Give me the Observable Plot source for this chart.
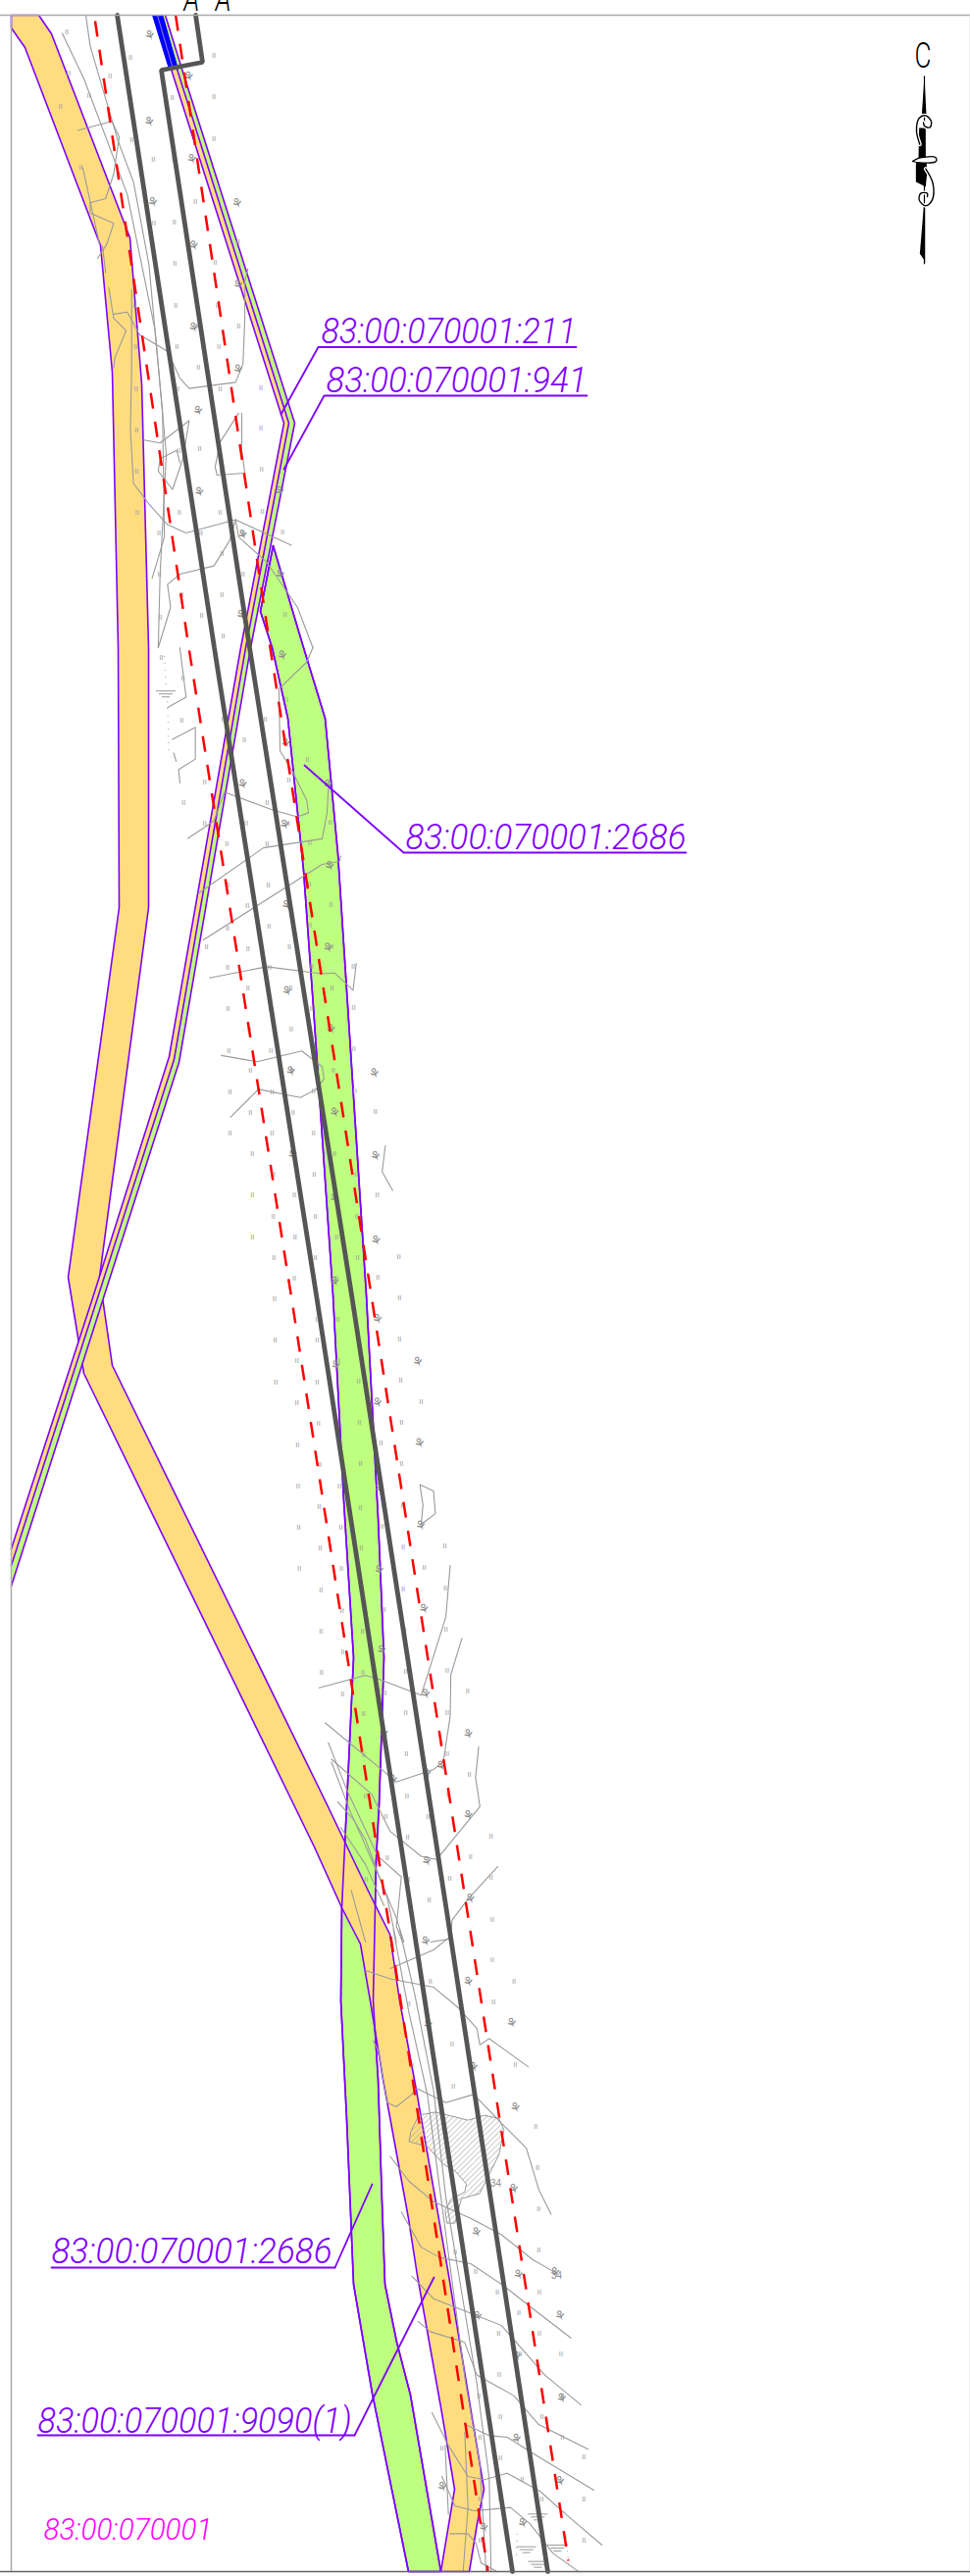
<!DOCTYPE html>
<html><head><meta charset="utf-8">
<style>html,body{margin:0;padding:0;background:#fff}svg{display:block}</style>
<script src="https://cdn.jsdelivr.net/npm/d3@7"></script>
<script src="https://cdn.jsdelivr.net/npm/@observablehq/plot@0.6"></script>
</head><body><div id="chart"></div>
<script>
const sheet=(off)=>([X,Y])=>[X*989/1568,off+Y*660/1568];
const S1=sheet(0),S2=sheet(660),S3=sheet(1320),S4=sheet(1967);
const local=(x0,y0)=>([X,Y])=>[x0+X/3,y0+Y/3];
const L8=local(380,2120),L9=local(420,2460),N=local(900,20);

const roadOrange=[[11,15],[39,15],[52,34],[132,242],[144,391],[151,660],[151,925],[101,1302],[114,1392],[333,1840],[375,1928],[397,1972],[407,2040],[424,2131],[457,2320],[480,2460],[493,2538],[486,2573],[478,2622],[449,2622],[463,2538],[450,2460],[425,2320],[416,2262],[390,2120],[377,2040],[367,1982],[348,1945],[320,1883],[85,1400],[69,1302],[121,925],[120,660],[114,379],[102,250],[25,48],[11,28],[11,15]];
const parcelGreen=[[278,556],[265,623],[277,660],[293,732],[309,887],[319,1026],[339,1320],[350,1530],[360,1690],[353,1840],[348,1945],[347,2040],[353,2161],[360,2329],[379,2440],[416,2622],[449,2622],[418,2442],[404,2388],[392,2329],[389,2245],[385,2120],[380,2040],[383,1897],[386,1840],[388,1783],[391,1690],[385,1547],[373,1320],[344,870],[331,732],[309,660],[278,556]];
const stripLeft=[[174,70],[289,431],[245,660],[172,1077],[95,1320],[11,1579]];
const stripMid=[[165,15],[180,70],[294,431],[250,660],[177,1080],[100,1320],[11,1596]];
const stripRight=[[168,15],[185,70],[300,431],[255,660],[182,1083],[106,1320],[11,1617]];
const blueBand=[[155,15],[165,15],[181,70],[172,70],[155,15]];
const blueCentre=[[160,15],[176,70]];

const boundaryA=[[119,15],[218,660],[322,1320],[422,1970],[522,2622]];
const boundaryB=[[199,15],[206,63],[164,71],[254,660],[358,1320],[459,1975],[558,2622]];
const redA=[[96.5,21],[192,660],[297,1325],[398,1975],[497,2622]];
const redB=[[178.6,15],[275,660],[378,1320],[480,1975],[579,2611]];

const contoursS1=[
 [[100,80],[135,190],[205,470],[250,800],[268,1100],[258,1390],[255,1568]],
 [[138,36],[145,110],[190,340],[215,440],[240,640],[262,1000],[265,1300],[245,1400]],
 [[125,315],[180,293],[192,330],[183,420],[170,480],[145,490],[145,515],[183,540],[172,590],[157,625]],
 [[133,405],[160,590]],[[165,595],[170,660]],
 [[175,695],[183,770],[203,800],[185,865],[183,890]],
 [[183,760],[205,755],[225,810],[270,850],[290,915],[305,940],[380,925],[392,880],[395,770],[395,680],[400,650]],
 [[212,700],[212,900],[210,1040],[215,1170],[240,1220],[270,1270],[300,1290],[380,1258],[470,1320]],
 [[380,1258],[385,1300],[430,1360],[480,1470],[505,1568]],
 [[232,1065],[258,1072],[305,1018],[295,1110],[278,1185],[255,1140],[258,1110],[285,1090],[290,1120]],
 [[385,1000],[355,1070],[347,1130],[350,1150],[395,1145],[390,1090],[390,1000]],
 [[380,1258],[370,1310],[345,1370],[290,1390],[270,1415],[275,1470],[255,1568]]
];
const contoursS2=[
 [[290,0],[300,120],[270,145]],
 [[278,222],[315,193],[315,270],[288,295],[290,328]],[[280,255],[284,275]],
 [[303,462],[345,420],[362,350],[440,393],[480,410],[498,400],[495,370],[472,300],[452,250],[450,100],[495,35],[505,0]],
 [[320,595],[425,485],[520,463],[528,400],[530,340]],
 [[328,708],[420,620],[520,525],[548,518],[550,505]],
 [[338,800],[430,773],[520,790],[540,788],[570,830],[575,765]],
 [[357,988],[415,1003],[487,977],[520,1015],[523,1045],[510,1070],[485,1090],[417,1070],[372,1137]],
 [[622,1207],[617,1270],[634,1315]]
];
const contoursS3=[
 [[678,460],[700,475],[703,530],[680,556],[683,510],[678,460]],
 [[727,655],[720,780],[680,970],[610,930],[590,922],[515,952]],
 [[746,832],[728,920],[727,1020],[716,1130]],
 [[525,1037],[640,1180],[700,1150],[716,1130]],
 [[773,1095],[768,1170],[775,1240],[705,1368],[680,1360],[630,1300],[600,1210],[535,1125]],
 [[530,1085],[560,1200],[610,1360],[648,1410],[640,1530],[650,1568]],
 [[535,1132],[565,1250],[615,1420],[640,1510],[652,1568]],
 [[545,1228],[570,1270],[590,1320],[625,1460],[640,1568]],
 [[550,1290],[590,1380],[620,1480]],
 [[567,1443],[590,1568]],
 [[804,1385],[755,1465],[730,1515],[728,1560],[695,1568]]
];
const contoursS4=[
 [[725,20],[700,50],[630,95]],
 [[590,100],[630,120],[700,140],[740,190],[770,240],[775,280],[790,265],[853,333]],
 [[645,0],[670,160],[700,390],[720,650],[770,1100],[790,1330],[793,1556]],
 [[635,0],[660,200],[690,400],[712,650],[752,1100],[775,1300],[785,1556]],
 [[602,270],[610,290],[625,420],[640,430],[665,400],[672,385],[720,420],[765,400],[810,470],[850,530],[870,630],[890,690]],
 [[630,550],[660,610],[700,660],[730,680],[760,700],[810,740],[860,800],[895,830]],
 [[648,685],[680,770],[710,795],[760,810],[810,860],[870,930],[922,990]],
 [[665,840],[700,895],[760,930],[810,960],[880,1080],[938,1152]],
 [[675,950],[695,975],[750,1000],[770,1080],[830,1130],[870,1200],[950,1260]]
];
const contoursL9=[
 [[160,35],[235,70],[290,75],[370,125],[555,237]],
 [[60,0],[110,100],[170,195],[220,205],[290,185],[390,240],[480,320],[580,405]],
 [[90,195],[130,285],[190,300],[300,290],[360,340],[430,430],[510,487]],
 [[115,370],[170,370],[195,400],[210,460],[260,487]],
 [[100,100],[110,310]],[[160,60],[170,290],[155,487]]
];
const hatchOutline=[[110,190],[115,160],[140,110],[190,100],[250,115],[290,125],[340,110],[385,120],[400,155],[385,230],[345,310],[325,350],[270,365],[250,440],[225,440],[220,400],[240,365],[280,345],[285,320],[250,280],[215,260],[165,205],[125,195],[110,190]];

const spotsS1=[[107,77],[97,257],[110,175],[143,230],[177,183],[210,137],[345,133],[345,233],[278,235],[247,385],[212,337],[130,405],[345,335],[280,385],[315,487],[281,537],[248,540],[384,585],[347,635],[282,637],[283,738],[217,740],[385,788],[351,738],[318,788],[285,838],[353,838],[320,888],[218,840],[219,940],[286,940],[421,938],[355,940],[220,1040],[421,1037],[322,1087],[288,1090],[220,1140],[422,1137],[357,1140],[221,1240],[289,1240],[423,1238],[355,1240],[324,1290],[256,1290],[456,1288],[392,1290],[358,1340],[257,1390],[392,1390],[293,1440],[358,1440],[258,1495],[460,1488],[325,1490],[392,1490],[360,1540]];
const spotsS2=[[260,25],[295,75],[293,175],[360,173],[394,224],[428,173],[462,125],[496,272],[330,325],[466,322],[296,375],[431,375],[397,425],[330,425],[465,425],[500,472],[431,475],[366,475],[533,422],[499,572],[433,575],[367,575],[534,622],[399,625],[500,672],[367,680],[434,676],[333,725],[400,730],[467,725],[535,725],[367,775],[570,772],[503,772],[435,775],[400,825],[536,825],[469,825],[571,873],[368,875],[436,875],[503,875],[402,925],[470,925],[571,973],[369,977],[437,977],[505,977],[404,1025],[538,1025],[471,1025],[573,1075],[371,1077],[506,1075],[439,1077],[606,1125],[404,1127],[473,1127],[371,1177],[439,1177],[506,1177],[407,1227],[474,1227],[540,1227],[507,1277],[441,1277],[575,1275],[407,1327],[609,1325],[475,1327],[441,1377],[509,1377],[576,1377],[407,1427],[476,1427],[543,1427],[644,1475],[442,1477],[509,1477],[577,1477],[475,1527],[610,1525],[543,1527]];
const spotsS3=[[443,10],[645,8],[512,60],[545,60],[444,110],[645,108],[512,110],[479,160],[546,160],[445,212],[512,212],[579,210],[647,208],[479,262],[680,258],[514,312],[580,310],[648,310],[480,363],[547,363],[615,360],[516,412],[582,410],[648,410],[481,464],[548,464],[515,513],[582,515],[650,510],[482,564],[550,563],[617,562],[517,613],[583,613],[651,611],[718,608],[483,664],[551,663],[685,660],[518,715],[584,714],[651,712],[719,710],[518,815],[585,815],[653,813],[720,810],[552,765],[620,762],[553,865],[519,915],[586,915],[655,912],[722,910],[553,966],[621,964],[755,960],[587,1015],[655,1013],[722,1012],[622,1065],[587,1115],[656,1113],[722,1112],[758,1162],[590,1215],[657,1215],[724,1212],[691,1264],[623,1265],[658,1315],[793,1312],[625,1365],[760,1362],[591,1417],[659,1415],[726,1414],[693,1465],[793,1412],[795,1513]];
const spotsS4=[[795,75],[695,127],[830,125],[660,180],[797,177],[730,278],[832,327],[665,330],[732,380],[865,478],[868,578],[870,678],[735,782],[870,778],[768,830],[871,880],[803,880],[838,930],[805,980],[871,980],[906,1030],[773,1030],[840,1030],[806,1080],[773,1130],[875,1180],[908,1130],[840,1130],[808,1180],[908,1230],[713,1258],[775,1230],[943,1278],[808,1280],[843,1332],[875,1380],[943,1380],[775,1380],[808,1380],[943,1480],[775,1480]];
const shrubsS1=[[242,85],[305,185],[241,295],[247,490],[383,492],[310,385],[313,595],[385,690],[313,793],[385,895],[320,995],[322,1192],[452,1190],[392,1295],[453,1392],[390,1490]];
const shrubsS2=[[456,20],[392,332],[460,430],[463,625],[462,232],[530,333],[533,530],[530,728],[464,833],[535,925],[605,1032],[470,1027],[541,1127],[473,1230],[607,1233],[541,1335],[608,1437],[541,1537]];
const shrubsS3=[[610,60],[543,172],[675,163],[610,262],[678,360],[613,470],[680,560],[613,668],[685,762],[617,862],[688,968],[757,1065],[620,1062],[713,1142],[690,1160],[635,1175],[757,1262],[690,1373],[760,1464]];
const shrubsS4=[[688,30],[757,128],[827,228],[692,232],[765,335],[833,433],[830,630],[770,735],[838,838],[897,832],[905,937],[772,938],[835,1035],[908,1137],[835,1235],[905,1338],[715,1352],[782,1450],[845,1440]];
const marshSymbols=[[268,105]].map(S2).concat([[385,310],[350,410],[445,405],[385,455]].map(L9));
const dottedRuns=[[[265,20],[268,110]].map(S2),[[270,130],[272,250]].map(S2),[[320,370],[318,450]].map(L9),[[470,380],[480,480]].map(L9)];

const purpleLabels=[
 {text:"83:00:070001:211",x:327,y:349.5,w:260},
 {text:"83:00:070001:941",x:332,y:399,w:266},
 {text:"83:00:070001:2686",x:413,y:865.5,w:286},
 {text:"83:00:070001:2686",x:52,y:2307,w:287},
 {text:"83:00:070001:9090(1)",x:38,y:2480,w:320}
];
const leaders=[
 [[587,353.5],[324,353.5],[286,422]],
 [[598,403],[330,403],[289,478]],
 [[699,869],[411,869],[310,780]],
 [[341,2312],[52,2312]],[[341,2312],[379,2227]],
 [[361,2483],[38,2483]],[[361,2483],[442,2322]]
];
const blockLabel=[{text:"83:00:070001",x:44,y:2589,w:172}];
const sectionLabel=[{text:"А–А",x:187,y:10,w:48}];
const northLabel=[{text:"С",x:932,y:68,w:17}];
const spotHeights=[{text:"34",x:505,y:2226},{text:"34",x:567,y:2320}];

const northBody=[[110,330],[130,330],[130,420],[135,460],[130,510],[100,495],[100,440],[108,420]].map(N);
const northUpper=[[126,172],[118,290],[132,290]].map(N);
const northLower=[[124,570],[128,570],[128,745],[126,735],[112,715]].map(N);
const northAxis=[[126,172],[126,745]].map(N);
const northScrolls=[
 [[112,380],[102,340],[110,300],[130,292],[147,310],[143,328],[127,325],[123,313]].map(N),
 [[130,455],[152,500],[150,550],[130,568],[110,550],[115,530],[135,530],[135,540]].map(N)
];
const northKnot=[[90,432],[110,422],[160,420],[162,432],[110,436],[90,432]].map(N);

const PURPLE="#7f00ff",ORANGE="#ffdd7f",GREEN="#bfff7f",GREY="#9a9a9a",DARK="#555555",RED="#ff0000";
const contours=[...contoursS1.map(c=>c.map(S1)),...contoursS2.map(c=>c.map(S2)),...contoursS3.map(c=>c.map(S3)),...contoursS4.map(c=>c.map(S4)),...contoursL9.map(c=>c.map(L9))];
const spots=[...spotsS1.map(S1),...spotsS2.map(S2),...spotsS3.map(S3),...spotsS4.map(S4)];
const shrubs=[...shrubsS1.map(S1),...shrubsS2.map(S2),...shrubsS3.map(S3),...shrubsS4.map(S4)];
const stripBand=(a,b)=>[...a,...b.slice().reverse()];
const labelFont={fontFamily:"Roboto",fontStyle:"italic",fontWeight:300,textAnchor:"start",lineAnchor:"bottom",className:"lab"};
const EDGE=1.6;

const chart=Plot.plot({
 width:989,height:2627,margin:0,
 x:{domain:[0,989],axis:null},
 y:{domain:[0,2627],reverse:true,axis:null},
 marks:[
  Plot.line(parcelGreen,{fill:GREEN,stroke:PURPLE,strokeWidth:EDGE}),
  Plot.line(roadOrange,{fill:ORANGE,stroke:PURPLE,strokeWidth:EDGE}),
  Plot.line(parcelGreen,{stroke:PURPLE,strokeWidth:EDGE}),
  Plot.line(stripBand(stripLeft,stripMid.slice(1)),{fill:ORANGE,stroke:"none"}),
  Plot.line(stripBand(stripMid,stripRight),{fill:GREEN,stroke:"none"}),
  Plot.line(stripLeft,{stroke:PURPLE,strokeWidth:EDGE}),
  Plot.line(stripMid,{stroke:PURPLE,strokeWidth:EDGE}),
  Plot.line(stripRight,{stroke:PURPLE,strokeWidth:EDGE}),
  Plot.line(blueBand,{fill:"#0000ff",stroke:"#0000ff",strokeWidth:1}),
  Plot.line(blueCentre,{stroke:"#b9a0c8",strokeWidth:0.8}),
  Plot.line(hatchOutline.map(L8),{fill:"url(#hatch)",stroke:GREY,strokeWidth:1}),
  ...contours.map(c=>Plot.line(c,{stroke:GREY,strokeWidth:1.1})),
  ...dottedRuns.map(c=>Plot.line(c,{stroke:GREY,strokeWidth:1,strokeDasharray:"1,6",strokeLinecap:"butt"})),
  Plot.text(spots,{x:d=>d[0],y:d=>d[1],text:()=>"II",fontSize:7.5,fontFamily:"Liberation Sans",fill:"#999999"}),
  Plot.text(shrubs,{x:d=>d[0],y:d=>d[1],text:()=>"⚘",fontSize:14,fontWeight:"bold",fontFamily:"DejaVu Sans",fill:"#8a8a8a",rotate:-20}),
  Plot.text(spotHeights,{x:"x",y:"y",text:"text",fontSize:10,fontFamily:"Liberation Sans",fill:"#8f8f8f"}),
  ...marshSymbols.flatMap(([x,y])=>[[10,0],[7,3],[4,6]].map(([w,d])=>Plot.ruleY([y+d],{x1:x-w,x2:x+w,stroke:GREY,strokeWidth:1}))),
  Plot.line(redA,{stroke:RED,strokeWidth:2.5,strokeDasharray:"16,13.5",strokeLinecap:"butt"}),
  Plot.line(redB,{stroke:RED,strokeWidth:2.5,strokeDasharray:"16,13.5",strokeLinecap:"butt"}),
  Plot.line(boundaryA,{stroke:DARK,strokeWidth:4.8,strokeLinejoin:"miter"}),
  Plot.line(boundaryB,{stroke:DARK,strokeWidth:4.8,strokeLinejoin:"miter"}),
  ...leaders.map(c=>Plot.line(c,{stroke:PURPLE,strokeWidth:1.8})),
  Plot.text(purpleLabels,{x:"x",y:"y",text:"text",fontSize:36,fill:PURPLE,...labelFont}),
  Plot.text(blockLabel,{x:"x",y:"y",text:"text",fontSize:31,fill:"#ff00ff",...labelFont}),
  Plot.text(sectionLabel,{x:"x",y:"y",text:"text",fontSize:36,fill:"#000",...labelFont}),
  Plot.text(northLabel,{x:"x",y:"y",text:"text",fontSize:36,fill:"#000",...labelFont,fontStyle:"normal"}),
  Plot.line(northAxis,{stroke:"#000",strokeWidth:1.2}),
  Plot.line(northUpper,{fill:"#000",stroke:"none"}),
  Plot.line(northLower,{fill:"#000",stroke:"none"}),
  Plot.line(northBody,{fill:"#000",stroke:"none"}),
  ...northScrolls.map(c=>Plot.line(c,{stroke:"#fff",strokeWidth:4,curve:"catmull-rom"})),
  ...northScrolls.map(c=>Plot.line(c,{stroke:"#000",strokeWidth:1.4,curve:"catmull-rom"})),
  Plot.line(northKnot,{fill:"#fff",stroke:"#000",strokeWidth:1.3,curve:"catmull-rom"}),
  Plot.ruleY([15],{stroke:"#aaaaaa",strokeWidth:1.5}),
  Plot.ruleY([2622],{stroke:"#666666",strokeWidth:1.5}),
  Plot.ruleX([11],{y1:15,y2:2622,stroke:"#aaaaaa",strokeWidth:1.5}),
  Plot.ruleX([988.5],{y1:15,y2:2622,stroke:"#dddddd",strokeWidth:1})
 ]
});
document.getElementById("chart").append(chart);
// hatch fill and fitted label widths
const defs=d3.select(chart).insert("defs",":first-child");
const pat=defs.append("pattern").attr("id","hatch").attr("patternUnits","userSpaceOnUse").attr("width",4).attr("height",4).attr("patternTransform","rotate(-45)");
pat.append("line").attr("x1",0).attr("y1",0).attr("x2",4).attr("y2",0).attr("stroke","#a8a8a8").attr("stroke-width",1.2);
const widths=[...purpleLabels,...blockLabel,...sectionLabel,...northLabel];
chart.querySelectorAll(".lab text").forEach(t=>{
 const d=widths.find(w=>w.text===t.textContent);
 if(d){t.setAttribute("textLength",d.w);t.setAttribute("lengthAdjust","spacingAndGlyphs");}
});
</script></body></html>
